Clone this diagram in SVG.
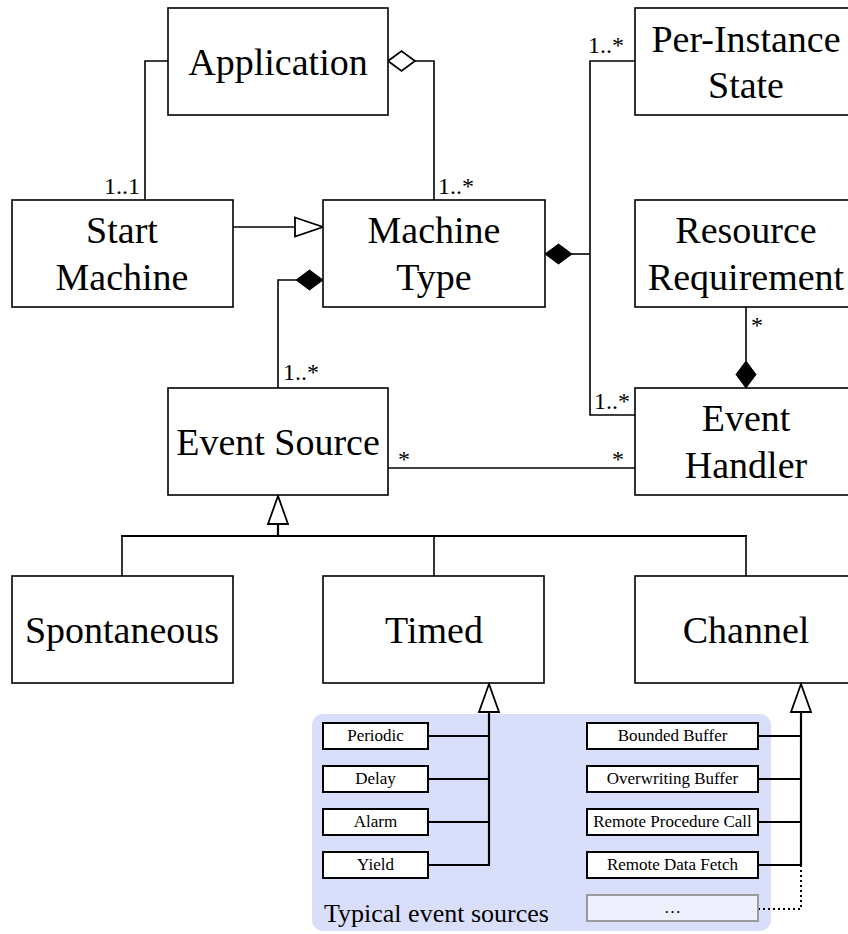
<svg xmlns="http://www.w3.org/2000/svg" width="848" height="934" viewBox="0 0 848 934">
  <style>
    text { font-family: "Liberation Serif", "Times New Roman", serif; fill: #000; }
    .box { fill: #fff; stroke: #000; stroke-width: 1.6; }
    .name { font-size: 38px; text-anchor: middle; }
    .mult { font-size: 24px; }
    .line { fill: none; stroke: #000; stroke-width: 1.6; }
    .thick { fill: none; stroke: #000; stroke-width: 2.2; }
    .small { fill: #fff; stroke: #000; stroke-width: 2; }
    .stext { font-size: 17px; text-anchor: middle; }
    .hollow { fill: #fff; stroke: #000; stroke-width: 1.8; }
    .solid { fill: #000; stroke: #000; stroke-width: 1; }
  </style>

  <!-- panel of typical event sources -->
  <g id="panel">
    <rect x="312" y="714" width="459" height="217" rx="11" fill="#d9dffa"/>
    <text x="324" y="922" font-size="26">Typical event sources</text>
  </g>

  <!-- connectors -->
  <g id="connectors">
    <!-- Application to Start Machine -->
    <polyline class="line" points="168,61 145,61 145,200"/>
    <text class="mult" x="140" y="194" text-anchor="end">1..1</text>

    <!-- Application aggregates Machine Type -->
    <polyline class="line" points="415,61 434,61 434,200"/>
    <polygon class="hollow" points="388,61 401.5,51 415,61 401.5,71"/>
    <text class="mult" x="438" y="194">1..*</text>

    <!-- Start Machine specializes Machine Type -->
    <line class="line" x1="233" y1="227" x2="295" y2="227"/>
    <polygon class="hollow" points="295,217.5 323,227 295,236.5"/>

    <!-- Machine Type composes Event Source -->
    <polyline class="line" points="296,280 278,280 278,388"/>
    <polygon class="solid" points="323,280 309.5,270 296,280 309.5,290"/>
    <text class="mult" x="283" y="380">1..*</text>

    <!-- Machine Type composes Per-Instance State and Event Handler -->
    <polyline class="line" points="635,61 590,61 590,415 635,415"/>
    <line class="line" x1="572" y1="254" x2="590" y2="254"/>
    <polygon class="solid" points="545,254 558.5,244 572,254 558.5,264"/>
    <text class="mult" x="588" y="53">1..*</text>
    <text class="mult" x="594" y="409">1..*</text>

    <!-- Event Handler composes Resource Requirement -->
    <line class="line" x1="746" y1="307" x2="746" y2="361"/>
    <polygon class="solid" points="746,388 736,374.5 746,361 756,374.5"/>
    <text class="mult" x="751" y="333">*</text>

    <!-- Event Source to Event Handler -->
    <line class="line" x1="388" y1="468" x2="635" y2="468"/>
    <text class="mult" x="398" y="467">*</text>
    <text class="mult" x="612" y="467">*</text>

    <!-- subclasses of Event Source -->
    <polygon class="hollow" points="278,496 268,524 288,524"/>
    <line class="thick" x1="278" y1="524" x2="278" y2="536"/>
    <line class="thick" x1="121" y1="536" x2="747" y2="536"/>
    <line class="line" x1="122" y1="536" x2="122" y2="576"/>
    <line class="line" x1="434" y1="536" x2="434" y2="576"/>
    <line class="line" x1="746" y1="536" x2="746" y2="576"/>

    <!-- typical timed sources -->
    <polygon class="hollow" points="489,684 479,712 499,712"/>
    <line class="thick" x1="489" y1="712" x2="489" y2="866"/>
    <line class="thick" x1="428" y1="736" x2="489" y2="736"/>
    <line class="thick" x1="428" y1="779" x2="489" y2="779"/>
    <line class="thick" x1="428" y1="822" x2="489" y2="822"/>
    <line class="thick" x1="428" y1="865" x2="489" y2="865"/>

    <!-- typical channels -->
    <polygon class="hollow" points="801,684 791,712 811,712"/>
    <line class="thick" x1="801" y1="712" x2="801" y2="866"/>
    <line class="thick" x1="758" y1="736" x2="801" y2="736"/>
    <line class="thick" x1="758" y1="779" x2="801" y2="779"/>
    <line class="thick" x1="758" y1="822" x2="801" y2="822"/>
    <line class="thick" x1="758" y1="865" x2="801" y2="865"/>
    <polyline points="758,909 801,909 801,866" fill="none" stroke="#000" stroke-width="2" stroke-dasharray="2 3"/>
  </g>

  <!-- classes -->
  <g id="application">
    <rect class="box" x="168" y="8" width="220" height="107"/>
    <text class="name" x="278" y="75">Application</text>
  </g>
  <g id="per-instance-state">
    <rect class="box" x="635" y="8" width="222" height="107"/>
    <text class="name" x="746" y="52">Per-Instance</text>
    <text class="name" x="746" y="98">State</text>
  </g>
  <g id="start-machine">
    <rect class="box" x="12" y="200" width="221" height="107"/>
    <text class="name" x="122" y="243">Start</text>
    <text class="name" x="122" y="290">Machine</text>
  </g>
  <g id="machine-type">
    <rect class="box" x="323" y="200" width="222" height="107"/>
    <text class="name" x="434" y="243">Machine</text>
    <text class="name" x="434" y="290">Type</text>
  </g>
  <g id="resource-requirement">
    <rect class="box" x="635" y="200" width="222" height="107"/>
    <text class="name" x="746" y="243">Resource</text>
    <text class="name" x="746" y="290">Requirement</text>
  </g>
  <g id="event-source">
    <rect class="box" x="168" y="388" width="220" height="107"/>
    <text class="name" x="278" y="455">Event Source</text>
  </g>
  <g id="event-handler">
    <rect class="box" x="635" y="388" width="222" height="107"/>
    <text class="name" x="746" y="431">Event</text>
    <text class="name" x="746" y="478">Handler</text>
  </g>
  <g id="spontaneous">
    <rect class="box" x="12" y="576" width="221" height="107"/>
    <text class="name" x="122" y="643">Spontaneous</text>
  </g>
  <g id="timed">
    <rect class="box" x="323" y="576" width="221" height="107"/>
    <text class="name" x="434" y="643">Timed</text>
  </g>
  <g id="channel">
    <rect class="box" x="635" y="576" width="222" height="107"/>
    <text class="name" x="746" y="643">Channel</text>
  </g>

  <!-- typical timed sources -->
  <g id="periodic">
    <rect class="small" x="323" y="723" width="105" height="26"/>
    <text class="stext" x="375.5" y="741">Periodic</text>
  </g>
  <g id="delay">
    <rect class="small" x="323" y="766" width="105" height="26"/>
    <text class="stext" x="375.5" y="784">Delay</text>
  </g>
  <g id="alarm">
    <rect class="small" x="323" y="809" width="105" height="26"/>
    <text class="stext" x="375.5" y="827">Alarm</text>
  </g>
  <g id="yield">
    <rect class="small" x="323" y="852" width="105" height="26"/>
    <text class="stext" x="375.5" y="870">Yield</text>
  </g>

  <!-- typical channels -->
  <g id="bounded-buffer">
    <rect class="small" x="587" y="723" width="171" height="26"/>
    <text class="stext" x="672.5" y="741">Bounded Buffer</text>
  </g>
  <g id="overwriting-buffer">
    <rect class="small" x="587" y="766" width="171" height="26"/>
    <text class="stext" x="672.5" y="784">Overwriting Buffer</text>
  </g>
  <g id="remote-procedure-call">
    <rect class="small" x="587" y="809" width="171" height="26"/>
    <text class="stext" x="672.5" y="827" font-size="15.3">Remote Procedure Call</text>
  </g>
  <g id="remote-data-fetch">
    <rect class="small" x="587" y="852" width="171" height="26"/>
    <text class="stext" x="672.5" y="870">Remote Data Fetch</text>
  </g>
  <g id="more">
    <rect x="587" y="895" width="171" height="26" fill="#eef0fd" stroke="#9a9a9a" stroke-width="2"/>
    <text class="stext" x="672.5" y="913" fill="#333">…</text>
  </g>
</svg>
